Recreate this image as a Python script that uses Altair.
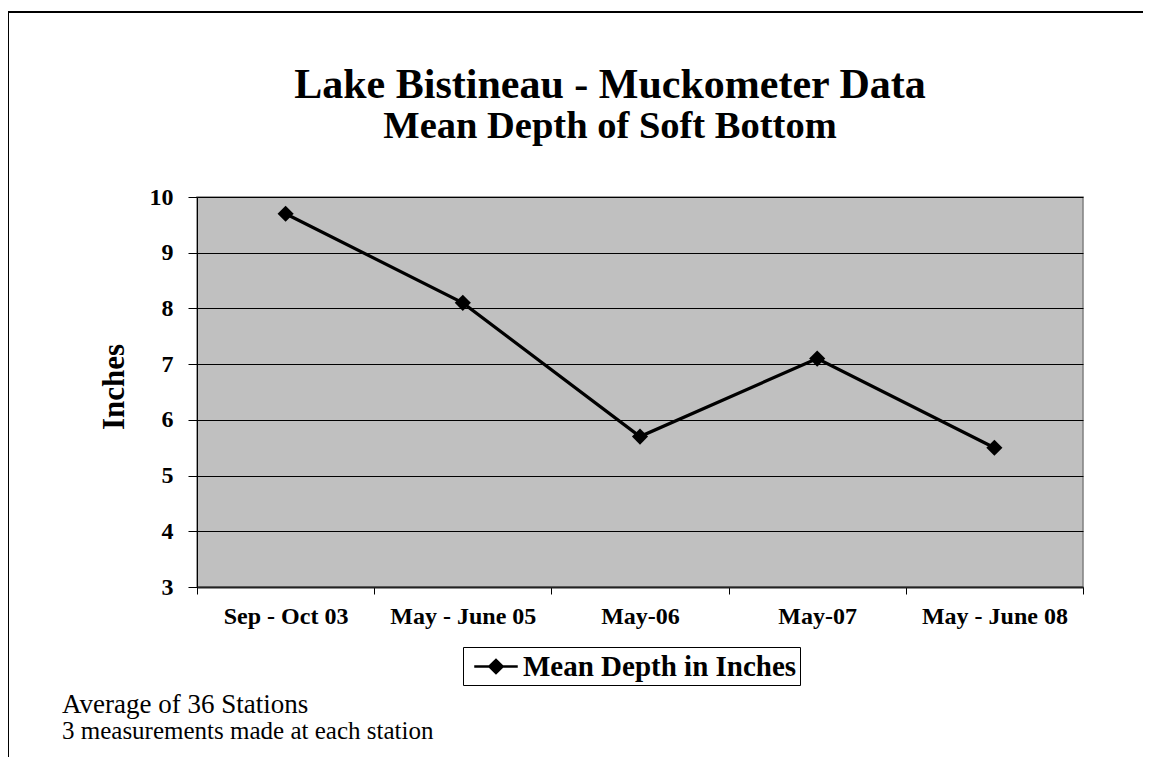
import altair as alt
import pandas as pd

periods = ["Sep - Oct 03", "May - June 05", "May-06", "May-07", "May - June 08"]
mean_depth = [9.7, 8.1, 5.7, 7.1, 5.5]
series_name = "Mean Depth in Inches"
title_line1 = "Lake Bistineau - Muckometer Data"
title_line2 = "Mean Depth of Soft Bottom"
y_title = "Inches"
note1 = "Average of 36 Stations"
note2 = "3 measurements made at each station"

df = pd.DataFrame({"period": periods, "depth": mean_depth, "series": [series_name] * len(periods)})

FONT = "Liberation Serif"

x_enc = alt.X("period:N", sort=periods, title=None,
              axis=alt.Axis(labelAngle=0, labelFont=FONT, labelFontSize=24, labelFontWeight="bold",
                            labelColor="black", labelPadding=10, tickBand="extent", tickSize=7,
                            tickColor="black", domainColor="#222222", domainWidth=2, grid=False,
                            labelLimit=0))
y_enc = alt.Y("depth:Q", title=None,
              scale=alt.Scale(domain=[3, 10], nice=False, zero=False),
              axis=alt.Axis(values=[3, 4, 5, 6, 7, 8, 9, 10], labelFont=FONT, labelFontSize=24,
                            labelFontWeight="bold", labelColor="black", labelPadding=15,
                            tickSize=9, tickColor="black", domainColor="black",
                            grid=True, gridColor="black", gridWidth=1))

base = alt.Chart(df)

line = base.mark_line(strokeWidth=3.2).encode(
    x=x_enc, y=y_enc,
    color=alt.Color("series:N", scale=alt.Scale(range=["black"]),
                    legend=alt.Legend(title=None, orient="none", legendX=266, legendY=450,
                                      labelFont=FONT, labelFontSize=29, labelFontWeight="bold",
                                      labelColor="black", labelLimit=0,
                                      symbolType="M-0.55,0L2.35,0M0.46,0L0.9,-0.44L1.34,0L0.9,0.44Z",
                                      symbolSize=900, symbolStrokeWidth=2.5,
                                      symbolFillColor="black", symbolStrokeColor="black",
                                      strokeColor="black", fillColor="white", padding=3,
                                      labelOffset=24)),
)
points = base.mark_point(shape="diamond", filled=True, size=260, color="black", opacity=1).encode(
    x=x_enc, y=y_enc)

def txt(s, x, y, size, weight="bold", align="center", angle=0, baseline="alphabetic"):
    return alt.Chart(pd.DataFrame({"t": [s]})).mark_text(
        font=FONT, fontSize=size, fontWeight=weight, align=align, baseline=baseline,
        angle=angle, color="black").encode(x=alt.value(x), y=alt.value(y), text="t:N")

border = alt.Chart(pd.DataFrame({"a": [0]})).mark_rect(
    fill=None, stroke="black", strokeWidth=2).encode(
    x=alt.value(-189), y=alt.value(-185), x2=alt.value(1100), y2=alt.value(700))

chart = alt.layer(
    border, line, points,
    txt(title_line1, 413, -99, 42),
    txt(title_line2, 413, -59, 38.5),
    txt(y_title, -82, 190, 31, angle=270, baseline="middle"),
    txt(note1, -135, 516, 27, weight="normal", align="left"),
    txt(note2, -135, 542, 25, weight="normal", align="left"),
).properties(
    width=886, height=390,
    autosize=alt.AutoSizeParams(type="none"),
    padding={"left": 189, "top": 189, "right": 60, "bottom": 170},
).configure_view(fill="#C0C0C0", stroke="#808080", strokeWidth=1.5)

chart.save("out.html", embed_options={"renderer": "svg", "actions": False})
